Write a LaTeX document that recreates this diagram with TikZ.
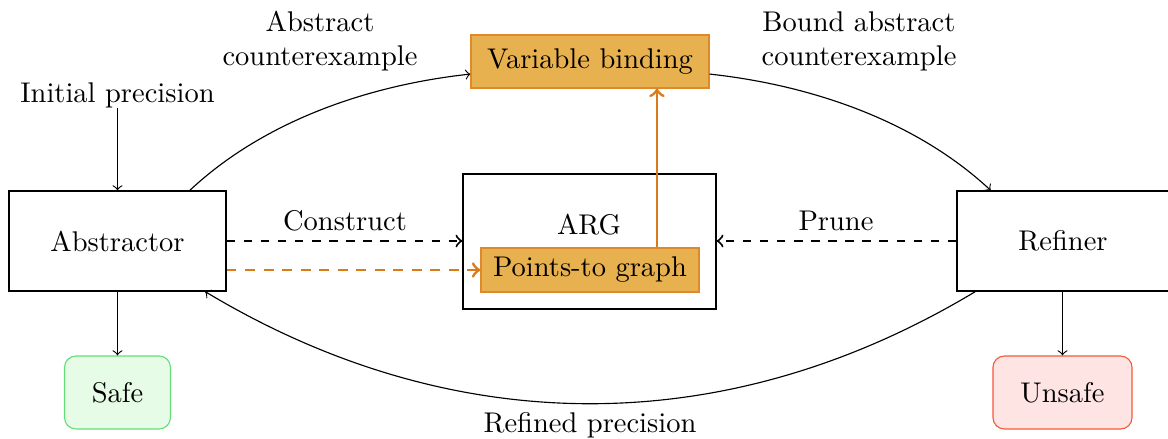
\documentclass[tikz,border=0pt]{standalone}
\definecolor{hlfill}{HTML}{E8B14F}
\definecolor{hldraw}{HTML}{E0892A}
\definecolor{hlarrow}{HTML}{D97A1B}
\definecolor{safefill}{HTML}{E6FCE6}
\definecolor{safedraw}{HTML}{66DD77}
\definecolor{unsafefill}{HTML}{FFE4E4}
\definecolor{unsafedraw}{HTML}{F25A3C}
\begin{document}
\begin{tikzpicture}[x=0.3509pt,y=-0.3509pt,
  stagebox/.style={draw, minimum height=35.1pt, inner sep=0pt},
  hlbox/.style={draw=hldraw, fill=hlfill, inner sep=0pt},
  resultbox/.style={draw, rounded corners=4pt, minimum height=25.6pt, inner sep=0pt},
  flow/.style={->},
  dashflow/.style={->, dashed, line width=0.7pt},
  hlflow/.style={->, hlarrow, line width=1pt}]
\useasboundingbox (0,0) rectangle (1168,439);
\clip (0,0) rectangle (1168,439);

% main stages
\node[stagebox, minimum width=76.1pt] (abs) at (117.5,241) {Abstractor};
\node[stagebox, minimum width=74.4pt] (ref) at (1063,241) {Refiner};
\node[draw, minimum width=88.8pt, minimum height=47.4pt, inner sep=0pt] (arg) at (589.5,241.5) {};
\node (argl) at (589,225) {ARG};
\node[hlbox, minimum width=76.5pt, minimum height=15.4pt] (pts) at (590,270) {Points-to graph};
\node[hlbox, minimum width=83.5pt, minimum height=18.6pt] (vb) at (590,61.5) {Variable binding};

% results
\node[resultbox, fill=safefill, draw=safedraw, minimum width=37.2pt] (safe) at (117.5,392.5) {Safe};
\node[resultbox, fill=unsafefill, draw=unsafedraw, minimum width=48.8pt] (unsafe) at (1062.5,392.5) {Unsafe};

% labels
\node (init) at (117.5,95) {Initial precision};
\node[align=center] (acex) at (320,41) {Abstract\\counterexample};
\node[align=center] (bcex) at (859,41) {Bound abstract\\counterexample};
\node (cons) at (345,221) {Construct};
\node (prune) at (836,221) {Prune};
\node (refp) at (590,425) {Refined precision};

% connectors
\draw[flow] ([yshift=3.5pt]init.south) -- (init.south |- abs.north);
\draw[flow] (abs.south) -- (abs.south |- safe.north);
\draw[flow] (unsafe.north |- ref.south) -- (unsafe.north);

\draw[dashflow] (abs.east) -- (abs.east -| arg.west);
\draw[dashflow] (ref.west) -- (ref.west -| arg.east);
\draw[hlflow, dash pattern=on 3.5pt off 3pt] (pts.west -| abs.east) -- (pts.west);
\draw[hlflow] ([xshift=23.5pt]pts.north) -- ([xshift=23.5pt]pts.north |- vb.south);

\draw[flow] (abs.35.7) .. controls (265,120) and (370,85) .. (vb.186);
\draw[flow] (vb.354) .. controls (810,85) and (915,120) .. (ref.145);
\draw[flow] (ref.210) .. controls (727,441) and (454,441) .. (abs.330.5);
\end{tikzpicture}
\end{document}
